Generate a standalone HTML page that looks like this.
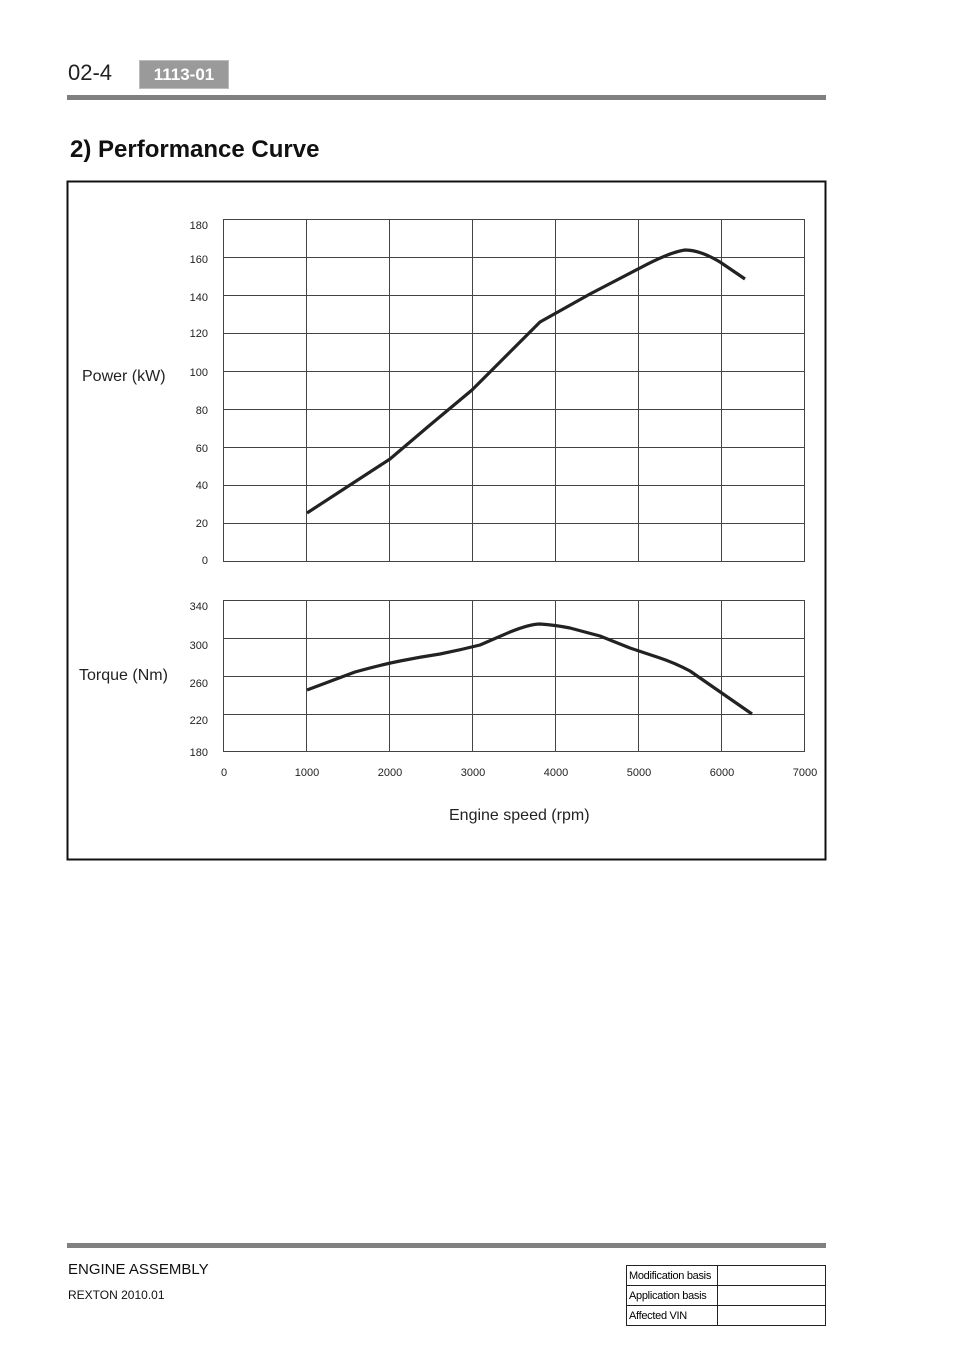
<!DOCTYPE html>
<html><head><style>
body{margin:0;background:#fff;font-family:"Liberation Sans",sans-serif;}
.a{position:absolute;}
</style></head><body>
<div style="position:relative;width:960px;height:1358px;overflow:hidden">
<div class="a" style="left:68px;top:60px;font-size:22px;color:#222">02-4</div>
<div class="a" style="left:139px;top:60px;width:88px;height:27px;background:#9a9a9a;border:1px solid #bbb;color:#fff;font-weight:bold;font-size:17px;text-align:center;line-height:27px">1113-01</div>
<div class="a" style="left:67px;top:95px;width:759px;height:5px;background:#808080"></div>
<div class="a" style="left:70px;top:136px;font-size:24px;font-weight:bold;color:#111">2) Performance Curve</div>
<svg class="a" style="left:0;top:0" width="960" height="900" font-family="Liberation Sans" fill="#222">
<rect x="67.5" y="181.5" width="758" height="678" fill="none" stroke="#111" stroke-width="2"/>
<g stroke="#444" stroke-width="1" fill="none">
<rect x="223.5" y="219.5" width="581" height="342"/>
<path d="M223 257.5H805M223 295.5H805M223 333.5H805M223 371.5H805M223 409.5H805M223 447.5H805M223 485.5H805M223 523.5H805"/>
<path d="M306.5 219V561M389.5 219V561M472.5 219V561M555.5 219V561M638.5 219V561M721.5 219V561"/>
<rect x="223.5" y="600.5" width="581" height="151"/>
<path d="M223 638.5H805M223 676.5H805M223 714.5H805"/>
<path d="M306.5 600V751M389.5 600V751M472.5 600V751M555.5 600V751M638.5 600V751M721.5 600V751"/>
</g>
<g font-size="11" text-anchor="end">
<text x="208" y="229">180</text><text x="208" y="263">160</text><text x="208" y="301">140</text><text x="208" y="337">120</text><text x="208" y="376">100</text><text x="208" y="414">80</text><text x="208" y="452">60</text><text x="208" y="489">40</text><text x="208" y="527">20</text><text x="208" y="564">0</text>
<text x="208" y="610">340</text><text x="208" y="649">300</text><text x="208" y="687">260</text><text x="208" y="724">220</text><text x="208" y="756">180</text>
</g>
<g font-size="11" text-anchor="middle">
<text x="224" y="776">0</text><text x="307" y="776">1000</text><text x="390" y="776">2000</text><text x="473" y="776">3000</text><text x="556" y="776">4000</text><text x="639" y="776">5000</text><text x="722" y="776">6000</text><text x="805" y="776">7000</text>
</g>
<text x="82" y="381" font-size="16">Power (kW)</text>
<text x="79" y="680" font-size="16">Torque (Nm)</text>
<text x="449" y="820" font-size="16">Engine speed (rpm)</text>
<g fill="none" stroke="#222" stroke-width="3.2" stroke-linejoin="round">
<path d="M307 513L390 459L430 425L472 390L540 322L590 294L640 268Q670 252 685 250Q700 250 720 262L745 279"/>
<path d="M307 690L355 672Q380 665 400 661Q420 657 440 654Q460 650 480 645L510 632Q530 624 540 624Q555 625 570 628Q585 632 600 636L630 648L660 658Q675 663 690 671L752 714"/>
</g>
</svg>
<div class="a" style="left:67px;top:1243px;width:759px;height:5px;background:#808080"></div>
<div class="a" style="left:68px;top:1261px;font-size:15px;color:#111">ENGINE ASSEMBLY</div>
<div class="a" style="left:68px;top:1288px;font-size:12px;color:#111">REXTON 2010.01</div>
<table class="a" style="left:626px;top:1265px;width:200px;border-collapse:collapse;font-size:11px;letter-spacing:-0.3px">
<tr style="height:20px"><td style="border:1px solid #222;width:86px;padding:0 2px">Modification basis</td><td style="border:1px solid #222"></td></tr>
<tr style="height:20px"><td style="border:1px solid #222;padding:0 2px">Application basis</td><td style="border:1px solid #222"></td></tr>
<tr style="height:20px"><td style="border:1px solid #222;padding:0 2px">Affected VIN</td><td style="border:1px solid #222"></td></tr>
</table>
</div>
</body></html>
